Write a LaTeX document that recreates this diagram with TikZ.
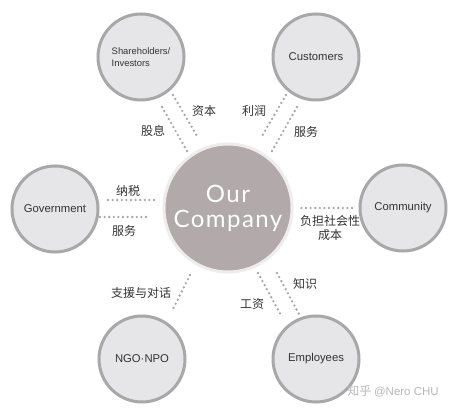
\documentclass[tikz,border=0pt]{standalone}
\usepackage{fontspec}
\setmainfont{Liberation Sans}
\newfontfamily\cjk{Noto Sans CJK SC}
\newfontfamily\bigfont[LetterSpace=6]{Lato}
\definecolor{ringgray}{HTML}{A9A7A8}
\definecolor{discfill}{HTML}{E6E6E8}
\definecolor{corefill}{HTML}{B1A9AA}
\definecolor{corering}{HTML}{EEECEC}
\definecolor{dotgray}{HTML}{A8A8A8}
\definecolor{labeltext}{HTML}{333333}
\definecolor{marktext}{HTML}{B8B8B8}
\begin{document}
\begin{tikzpicture}[x=1pt,y=-1pt,
  party/.style={circle,draw=ringgray,line width=3pt,fill=discfill,minimum size=86pt,inner sep=0pt,
    font=\fontsize{11.3}{13}\selectfont,text=labeltext},
  core/.style={circle,draw=corering,line width=3pt,fill=corefill,minimum size=128pt,inner sep=0pt,
    text=white,font=\bigfont\fontsize{24}{25}\selectfont,align=center},
  dotline/.style={draw=dotgray,line width=2.6pt,line cap=round,dash pattern=on 0pt off 4.6pt},
  tag/.style={font=\cjk\fontsize{12}{14}\selectfont,text=labeltext,inner sep=0pt,align=center}]
\useasboundingbox (0,0) rectangle (457,411);
\fill[white] (0,0) rectangle (457,411);

% nodes
\node[core]  (co)  at (228,208) {Our\\Company};
\node[party,align=left,font=\fontsize{9.4}{11.5}\selectfont] (sh) at (141,57) {Shareholders/\\Investors};
\node[party] (cu)  at (316,57)  {Customers};
\node[party] (gov) at (55,209)  {Government};
\node[party] (com) at (403,208) {Community};
\node[party] (ngo) at (142,359) {NGO·NPO};
\node[party] (emp) at (316,359) {Employees};

% connector end points
\coordinate (s1a) at (173,95);  \coordinate (s1b) at (197,136);
\coordinate (s2a) at (162,107); \coordinate (s2b) at (187,151);
\coordinate (c1a) at (286,95);  \coordinate (c1b) at (262,136);
\coordinate (c2a) at (297,107); \coordinate (c2b) at (272,151);
\coordinate (g1a) at (108,200); \coordinate (g1b) at (158,200);
\coordinate (g2a) at (100,217); \coordinate (g2b) at (150,217);
\coordinate (m1a) at (352,208); \coordinate (m1b) at (300,208);
\coordinate (n1a) at (190,275); \coordinate (n1b) at (172,311);
\coordinate (e1a) at (258,273); \coordinate (e1b) at (282,317);
\coordinate (e2a) at (277,273); \coordinate (e2b) at (300,316);

% connectors
\draw[dotline] (s1a) -- (s1b);
\draw[dotline] (s2a) -- (s2b);
\draw[dotline] (c1a) -- (c1b);
\draw[dotline] (c2a) -- (c2b);
\draw[dotline] (g1a) -- (g1b);
\draw[dotline] (g2a) -- (g2b);
\draw[dotline] (m1a) -- (m1b);
\draw[dotline] (n1a) -- (n1b);
\draw[dotline] (e1a) -- (e1b);
\draw[dotline] (e2a) -- (e2b);

% labels
\node[tag] (l1)  at (204,111) {资本};
\node[tag] (l2)  at (153,131) {股息};
\node[tag] (l3)  at (254,111) {利润};
\node[tag] (l4)  at (306,132) {服务};
\node[tag] (l5)  at (128,191) {纳税};
\node[tag] (l6)  at (124,231) {服务};
\node[tag] (l7)  at (330,228) {负担社会性\\成本};
\node[tag] (l8)  at (141,293) {支援与对话};
\node[tag] (l9)  at (252,304) {工资};
\node[tag] (l10) at (305,284) {知识};

% watermark
\node[text=marktext,inner sep=0pt] (wm) at (393,391) {{\cjk\fontsize{12}{14}\selectfont 知乎} {\fontsize{11.5}{14}\selectfont @Nero CHU}};
\end{tikzpicture}
\end{document}
